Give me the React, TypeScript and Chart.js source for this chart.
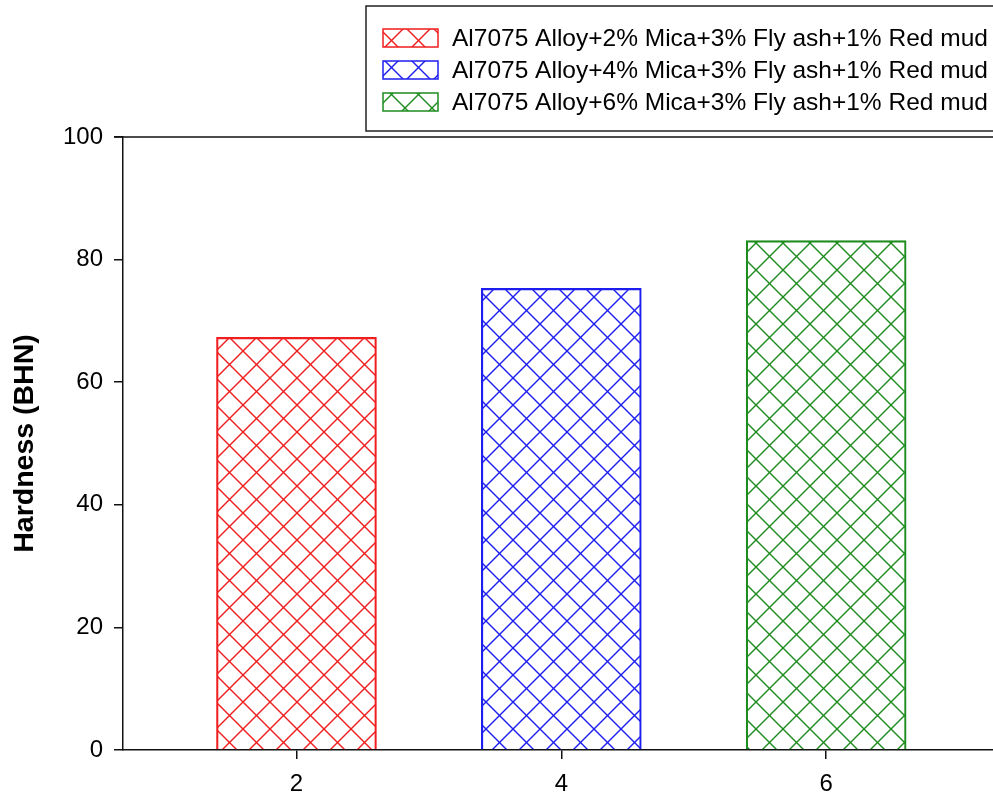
import React, { useEffect, useRef } from "react";
import { Chart, registerables } from "chart.js";

Chart.register(...registerables);

const categories = [2, 4, 6];
const seriesLabels = [
  "Al7075 Alloy+2% Mica+3% Fly ash+1% Red mud",
  "Al7075 Alloy+4% Mica+3% Fly ash+1% Red mud",
  "Al7075 Alloy+6% Mica+3% Fly ash+1% Red mud",
];
const hardness = [67.3, 75.3, 83.1];
const seriesColors = ["#f01e1e", "#1e1ef0", "#1e8c1e"];
const yTicks = [0, 20, 40, 60, 80, 100];
const yTitle = "Hardness (BHN)";

const FONT = "'Liberation Sans', Arial, Helvetica, sans-serif";

function makePattern(ctx: CanvasRenderingContext2D, color: string, size: number) {
  const c = document.createElement("canvas");
  c.width = size;
  c.height = size;
  const g = c.getContext("2d")!;
  g.strokeStyle = color;
  g.lineWidth = 1.4;
  for (const off of [-size, 0, size]) {
    g.beginPath();
    g.moveTo(off, 0);
    g.lineTo(off + size, size);
    g.stroke();
    g.beginPath();
    g.moveTo(off, size);
    g.lineTo(off + size, 0);
    g.stroke();
  }
  return ctx.createPattern(c, "repeat")!;
}

export default function App() {
  const ref = useRef<HTMLCanvasElement | null>(null);

  useEffect(() => {
    const canvas = ref.current!;
    const ctx = canvas.getContext("2d")!;
    const patterns = seriesColors.map((c) => makePattern(ctx, c, 27));

    const frameAndLegend = {
      id: "frameAndLegend",
      afterDraw(chart: any) {
        const c = chart.ctx;
        const a = chart.chartArea;
        c.save();
        c.strokeStyle = "#111";
        c.lineWidth = 1.5;
        c.beginPath();
        c.moveTo(a.left - 9, a.top);
        c.lineTo(a.right + 2, a.top);
        c.stroke();
        c.strokeStyle = "#222";
        c.lineWidth = 1.5;
        c.strokeRect(366, 6, 640, 125);
        const rows = [38, 70, 102];
        chart.data.datasets.forEach((ds: any, i: number) => {
          const y = rows[i];
          c.fillStyle = "#fff";
          c.fillRect(383, y - 9, 55, 18);
          c.fillStyle = patterns[i];
          c.fillRect(383, y - 9, 55, 18);
          c.strokeStyle = seriesColors[i];
          c.lineWidth = 1.5;
          c.strokeRect(383, y - 9, 55, 18);
          c.fillStyle = "#000";
          c.font = `24.5px ${FONT}`;
          c.textBaseline = "middle";
          c.textAlign = "left";
          c.fillText(ds.label, 452, y + 1);
        });
        c.restore();
      },
    };

    const chart = new Chart(canvas, {
      type: "bar",
      data: {
        datasets: seriesLabels.map((label, i) => ({
          label,
          data: [{ x: categories[i], y: hardness[i] }],
          backgroundColor: patterns[i],
          borderColor: seriesColors[i],
          borderWidth: 1.5,
          barThickness: 160,
          grouped: false,
        })),
      },
      options: {
        responsive: false,
        animation: false,
        layout: { padding: { top: 137, left: 0, right: 0, bottom: 0 } },
        plugins: {
          legend: { display: false },
          tooltip: { enabled: false },
        },
        scales: {
          x: {
            type: "linear",
            min: 0.69,
            max: 7.26,
            offset: false,
            afterBuildTicks: (s: any) => {
              s.ticks = categories.map((v) => ({ value: v }));
            },
            afterFit: (s: any) => {
              s.height = 47;
            },
            grid: {
              offset: false,
              drawOnChartArea: false,
              drawTicks: true,
              tickLength: 9,
              color: "#111",
              lineWidth: 1.5,
            },
            border: { display: true, color: "#111", width: 1.5 },
            ticks: {
              color: "#000",
              font: { size: 24, family: FONT },
              padding: 11,
              maxRotation: 0,
            },
          },
          y: {
            type: "linear",
            min: 0,
            max: 100,
            afterBuildTicks: (s: any) => {
              s.ticks = yTicks.map((v) => ({ value: v }));
            },
            afterFit: (s: any) => {
              s.width = 123;
            },
            grid: {
              drawOnChartArea: false,
              drawTicks: true,
              tickLength: 9,
              color: "#111",
              lineWidth: 1.5,
            },
            border: { display: true, color: "#111", width: 1.5 },
            ticks: {
              color: "#000",
              font: { size: 24, family: FONT },
              padding: 11,
            },
            title: {
              display: true,
              text: yTitle,
              color: "#000",
              font: { size: 28.5, weight: "bold", family: FONT },
              padding: { top: 8, bottom: 0 },
            },
          },
        },
      },
      plugins: [frameAndLegend],
    });

    return () => chart.destroy();
  }, []);

  return (
    <div style={{ position: "absolute", left: 0, top: 0, width: 993, height: 797, background: "#fff" }}>
      <canvas ref={ref} width={993} height={797} style={{ display: "block" }} />
    </div>
  );
}
